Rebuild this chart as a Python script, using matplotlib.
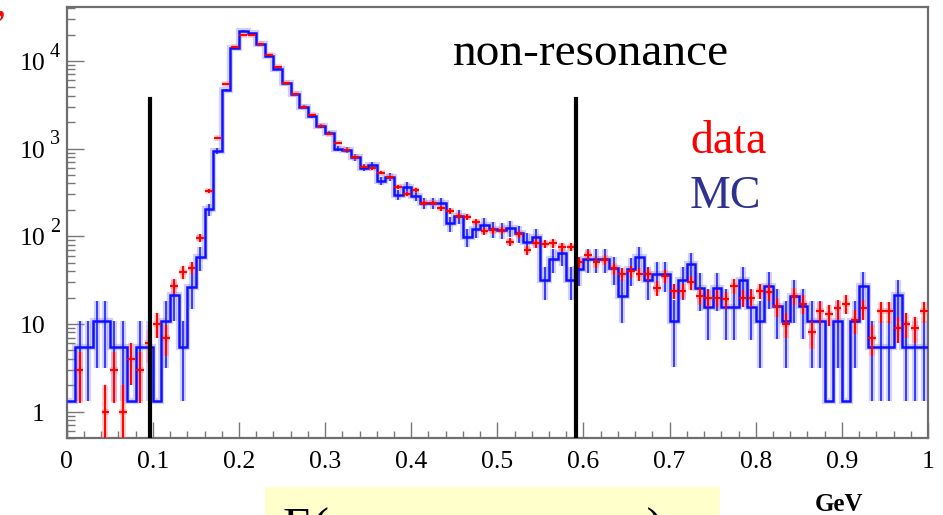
import matplotlib
matplotlib.use("Agg")
import matplotlib.pyplot as plt
import numpy as np
from matplotlib.patches import Rectangle
from matplotlib.ticker import FixedLocator, NullFormatter

# 100 bins of 10 MeV between 0 and 1 GeV
bin_edges = np.linspace(0.0, 1.0, 101)

# MC histogram (normalised, one MC event ~ 5.37), 0 = empty bin
mc = [
    0, 5.4, 5.4, 10.8, 10.8, 5.4, 5.4, 0, 5.4, 5.4,
    0, 10.8, 21.4, 5.4, 26.6, 58, 203, 940, 4660, 14100,
    21900, 20700, 15500, 11400, 8000, 5560, 4200, 3000, 2350, 1810,
    1515, 1000, 960, 795, 605, 650, 430, 478, 296, 368,
    290, 238, 238, 238, 140, 170, 99, 120, 134, 120,
    118, 124, 108, 87, 97, 32, 55, 65, 32, 42,
    55, 55, 55, 43, 21, 42, 58, 32, 37, 37,
    10.9, 32, 48, 26, 15.7, 26, 15.7, 15.7, 32, 15.7,
    10.8, 27, 15.9, 10.7, 20.9, 15.9, 10.8, 10.8, 0, 10.8,
    0, 10.8, 27, 5.4, 5.4, 5.4, 21.4, 5.4, 5.4, 5.4,
]
mc_weight = 5.37
mc_floor = 1.33

# data counts per bin
data = [
    0, 3, 0, 0, 1, 3, 1, 4, 3, 6,
    10, 7, 27, 39, 44, 95, 329, 1310, 5450, 14500,
    19700, 19700, 15500, 11600, 8450, 5600, 4200, 3000, 2400, 1800,
    1455, 1150, 960, 795, 622, 596, 531, 470, 368, 303,
    337, 238, 240, 208, 195, 170, 165, 147, 115, 117,
    117, 87, 106, 69, 83, 82, 83, 75, 76, 51,
    61, 51, 54, 43, 37, 40, 37, 37, 26, 35,
    24, 24, 30, 21, 20, 20, 19, 27, 20, 20,
    24, 23, 16, 10, 21, 17, 8, 14, 13, 15,
    17, 11, 15, 7, 14, 14, 9, 10, 9, 14,
]

window_cuts = [0.097, 0.5915]
x_ticks = [0, 0.1, 0.2, 0.3, 0.4, 0.5, 0.6, 0.7, 0.8, 0.9, 1.0]
x_tick_labels = ["0", "0.1", "0.2", "0.3", "0.4", "0.5", "0.6", "0.7", "0.8", "0.9", "1"]
y_decades = [1, 10, 100, 1000, 10000]

W, H = 943, 515
SERIF = ["Liberation Serif", "DejaVu Serif"]
plt.rcParams["font.family"] = SERIF
plt.rcParams["mathtext.fontset"] = "custom"
plt.rcParams["mathtext.rm"] = "Liberation Serif"


def fx(px):
    return px / W


def fy(py):
    return 1 - py / H


def main() -> None:
    fig = plt.figure(figsize=(W / 100, H / 100), dpi=100)
    ax = fig.add_axes([fx(66.7), fy(438), (928 - 66.7) / W, (438 - 7) / H])

    mc_arr = np.asarray(mc, dtype=float)
    data_arr = np.asarray(data, dtype=float)
    centers = 0.5 * (bin_edges[:-1] + bin_edges[1:])
    half = 0.5 * (bin_edges[1] - bin_edges[0])

    # MC error bars (clipped at the histogram minimum, like ROOT)
    filled = mc_arr > 0
    mc_err = np.sqrt(mc_arr * mc_weight)
    lo = np.maximum(mc_arr - mc_err, mc_floor)
    hi = mc_arr + mc_err
    ax.vlines(centers[filled], lo[filled], hi[filled], color="#8c8cff", lw=4.5, alpha=0.4, zorder=2)
    ax.vlines(centers[filled], lo[filled], hi[filled], color="#2020ff", lw=1.2, zorder=3)

    # MC histogram
    shown = np.maximum(mc_arr, mc_floor)
    ax.stairs(shown, bin_edges, baseline=None, color="#8c8cff", lw=4.5, alpha=0.4, zorder=2)
    ax.stairs(shown, bin_edges, baseline=None, color="#1010ff", lw=1.8, zorder=4)

    # data points with poisson errors
    has = data_arr > 0
    d_err = np.sqrt(data_arr)
    d_lo = np.minimum(d_err, data_arr - 1e-3)
    for lw, col, a, z in [(4, "#ff8080", 0.45, 3), (1.4, "#ff0000", 1.0, 5)]:
        ax.errorbar(centers[has], data_arr[has], xerr=half * 0.9,
                    yerr=[d_lo[has], d_err[has]], fmt="none",
                    ecolor=col, elinewidth=lw, alpha=a, capsize=0, zorder=z)

    ax.set_yscale("log", nonpositive="clip")
    ax.set_xlim(0, 1)
    ax.set_ylim(0.5, 41200)

    for xc in window_cuts:
        ax.axvline(xc, ymin=0, ymax=(438 - 99) / (438 - 7), color="black", lw=3, zorder=6)

    # axes style (ROOT like)
    for side in ["top", "right", "left", "bottom"]:
        ax.spines[side].set_color("#6e6e6e")
        ax.spines[side].set_linewidth(1.6)
    ax.set_xticks(x_ticks, labels=x_tick_labels)
    ax.xaxis.set_minor_locator(FixedLocator(np.arange(0.02, 1.0, 0.02)))
    ax.tick_params(axis="x", which="major", direction="in", length=11.5, width=1, color="#777777",
                   labelsize=18.5, pad=9, top=False)
    ax.tick_params(axis="x", which="minor", direction="in", length=5, width=1, color="#777777", top=False)

    ax.yaxis.set_major_locator(FixedLocator(y_decades))
    minors = [m * d for d in [0.1] + y_decades for m in range(2, 10)]
    ax.yaxis.set_minor_locator(FixedLocator([v for v in minors if 0.5 <= v <= 41200]))
    ax.yaxis.set_major_formatter(NullFormatter())
    ax.yaxis.set_minor_formatter(NullFormatter())
    ax.tick_params(axis="y", which="major", direction="in", length=12, width=1, color="#777777", right=False)
    ax.tick_params(axis="y", which="minor", direction="in", length=6, width=1, color="#777777", right=False)

    ytr = ax.get_yaxis_transform()
    x_lab = (45 - 66.7) / (928 - 66.7)
    for v in y_decades:
        exp = int(round(np.log10(v)))
        main_txt = "1" if exp == 0 else "10"
        ax.annotate(main_txt, xy=(x_lab, v), xycoords=ytr, xytext=(0, -6.5), textcoords="offset points",
                    ha="right", va="baseline", fontsize=18.5, annotation_clip=False)
        if exp >= 2:
            ax.annotate(str(exp), xy=(x_lab, v), xycoords=ytr, xytext=(3.6, 3), textcoords="offset points",
                        ha="left", va="baseline", fontsize=14.5, annotation_clip=False)

    # slide annotations
    fig.text(fx(453), fy(65), "non-resonance", fontsize=34, color="black", va="baseline", ha="left")
    fig.text(fx(690), fy(153), "data", fontsize=33, color="#ff0000", va="baseline", ha="left")
    fig.text(fx(690), fy(208), "MC", fontsize=33, color="#2e3192", va="baseline", ha="left")
    fig.text(fx(815), fy(511), "GeV", fontsize=18, fontweight="bold", color="black", va="baseline", ha="left")
    fig.patches.append(Rectangle((fx(265), 0), fx(720) - fx(265), fy(487), transform=fig.transFigure,
                                 facecolor="#ffffcc", edgecolor="none", zorder=0))
    # the slide's axis caption is cut by the bottom of the picture
    fig.text(fx(283), fy(542), "E(non-resonance γ)", fontsize=35, color="black", va="baseline", ha="left")
    fig.text(fx(-4), fy(14), ",", fontsize=30, color="#ff0000", va="baseline", ha="left", fontstyle="italic")

    fig.savefig("out.png", dpi=100)
    plt.close(fig)


if __name__ == "__main__":
    main()
